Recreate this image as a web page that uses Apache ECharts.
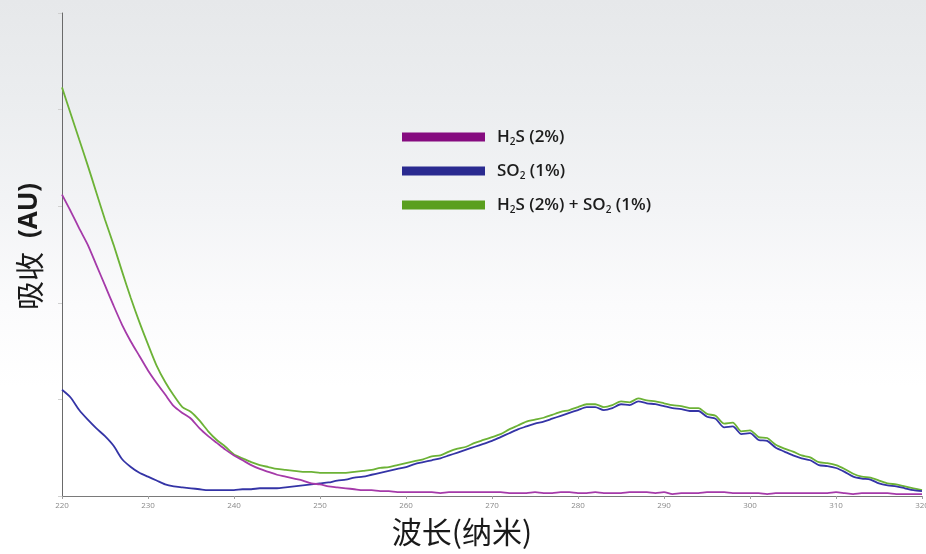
<!DOCTYPE html>
<html>
<head>
<meta charset="utf-8">
<script src="https://cdn.jsdelivr.net/npm/echarts@6/dist/echarts.min.js"></script>
<style>
  html, body { margin: 0; padding: 0; background: #fff; }
  #chart { width: 926px; height: 554px; }
</style>
</head>
<body>
<div id="chart"></div>
<script>
// Wavelength (nm)
const wavelengths = [
  220,221,222,223,224,225,226,227,228,229,
  230,231,232,233,234,235,236,237,238,239,
  240,241,242,243,244,245,246,247,248,249,
  250,251,252,253,254,255,256,257,258,259,
  260,261,262,263,264,265,266,267,268,269,
  270,271,272,273,274,275,276,277,278,279,
  280,281,282,283,284,285,286,287,288,289,
  290,291,292,293,294,295,296,297,298,299,
  300,301,302,303,304,305,306,307,308,309,
  310,311,312,313,314,315,316,317,318,319,
  320
];

// Absorbance, H2S (2%)
const h2s = [
  3.12,2.95,2.77,2.60,2.39,2.18,1.97,1.77,1.60,1.45,
  1.30,1.17,1.05,0.93,0.86,0.80,0.70,0.62,0.55,0.48,
  0.42,0.37,0.32,0.28,0.25,0.22,0.20,0.18,0.16,0.13,
  0.12,0.10,0.09,0.08,0.07,0.06,0.06,0.05,0.05,0.04,
  0.04,0.04,0.04,0.04,0.03,0.04,0.04,0.04,0.04,0.04,
  0.04,0.04,0.03,0.03,0.03,0.04,0.03,0.03,0.04,0.04,
  0.03,0.03,0.04,0.03,0.03,0.03,0.04,0.04,0.04,0.03,
  0.04,0.02,0.03,0.03,0.03,0.04,0.04,0.04,0.03,0.03,
  0.03,0.03,0.02,0.03,0.03,0.03,0.03,0.03,0.03,0.03,
  0.04,0.03,0.02,0.03,0.03,0.03,0.03,0.02,0.02,0.02,
  0.02
];

// Absorbance, SO2 (1%)
const so2 = [
  1.10,1.02,0.89,0.79,0.70,0.62,0.52,0.38,0.30,0.24,
  0.20,0.16,0.12,0.10,0.09,0.08,0.07,0.06,0.06,0.06,
  0.06,0.07,0.07,0.08,0.08,0.08,0.09,0.10,0.11,0.12,
  0.13,0.14,0.16,0.17,0.19,0.20,0.22,0.24,0.26,0.28,
  0.30,0.33,0.35,0.37,0.39,0.42,0.45,0.48,0.51,0.54,
  0.57,0.61,0.65,0.69,0.72,0.75,0.77,0.80,0.83,0.86,
  0.89,0.92,0.92,0.89,0.91,0.95,0.94,0.98,0.96,0.95,
  0.93,0.91,0.90,0.88,0.88,0.82,0.80,0.71,0.72,0.64,
  0.65,0.58,0.57,0.50,0.46,0.42,0.39,0.37,0.32,0.31,
  0.29,0.25,0.20,0.18,0.17,0.13,0.11,0.10,0.08,0.06,
  0.05
];

// Absorbance, H2S (2%) + SO2 (1%)
const mix = [
  4.23,3.96,3.69,3.42,3.14,2.86,2.60,2.32,2.05,1.80,
  1.57,1.35,1.18,1.04,0.92,0.87,0.78,0.67,0.58,0.51,
  0.43,0.39,0.35,0.32,0.30,0.28,0.27,0.26,0.25,0.25,
  0.24,0.24,0.24,0.24,0.25,0.26,0.27,0.29,0.30,0.32,
  0.34,0.36,0.38,0.41,0.42,0.46,0.49,0.51,0.55,0.58,
  0.61,0.64,0.69,0.73,0.77,0.79,0.81,0.84,0.87,0.89,
  0.92,0.95,0.95,0.92,0.94,0.98,0.97,1.01,0.99,0.98,
  0.96,0.94,0.93,0.91,0.91,0.85,0.83,0.75,0.76,0.67,
  0.68,0.61,0.60,0.53,0.49,0.46,0.42,0.40,0.35,0.34,
  0.32,0.28,0.23,0.20,0.19,0.16,0.13,0.12,0.10,0.08,
  0.06
];

const seriesNames = ['H2S (2%)', 'SO2 (1%)', 'H2S (2%) + SO2 (1%)'];
const legendLabels = {
  'H2S (2%)': '{t|H}{s|2}{t|S (2%)}',
  'SO2 (1%)': '{t|SO}{s|2}{t| (1%)}',
  'H2S (2%) + SO2 (1%)': '{t|H}{s|2}{t|S (2%) + SO}{s|2}{t| (1%)}'
};

function pairs(ys) {
  return wavelengths.map((w, i) => [w, ys[i]]);
}

const chart = echarts.init(document.getElementById('chart'), null, { renderer: 'canvas' });

chart.setOption({
  animation: false,
  backgroundColor: {
    type: 'linear', x: 0, y: 0, x2: 0, y2: 1,
    colorStops: [
      { offset: 0, color: '#e6e8ea' },
      { offset: 0.18, color: '#ebedef' },
      { offset: 0.38, color: '#f3f4f6' },
      { offset: 0.55, color: '#fbfbfc' },
      { offset: 0.7, color: '#ffffff' },
      { offset: 1, color: '#ffffff' }
    ]
  },
  grid: { left: 62, right: 4, top: 13, bottom: 58, containLabel: false, outerBoundsMode: 'none' },
  legend: {
    orient: 'vertical',
    left: 397,
    top: 120,
    icon: 'rect',
    itemWidth: 83,
    itemHeight: 9,
    itemGap: 10,
    data: seriesNames,
    formatter: name => legendLabels[name],
    textStyle: {
      padding: [0, 0, 0, 7],
      lineHeight: 24,
      rich: {
        t: { fontFamily: 'Open Sans', fontWeight: 600, fontSize: 17, color: '#1c1c1c', lineHeight: 24 },
        s: { fontFamily: 'Open Sans', fontWeight: 600, fontSize: 10, color: '#1c1c1c', lineHeight: 24, padding: [11, 0, 0, 0] }
      }
    }
  },
  xAxis: {
    type: 'value',
    min: 220,
    max: 320,
    interval: 10,
    name: '波长(纳米)',
    nameLocation: 'middle',
    nameGap: 21,
    nameTextStyle: {
      fontFamily: 'Noto Sans CJK SC',
      fontSize: 30,
      color: '#1a1a1a',
      padding: [0, 60, 0, 0]
    },
    axisLine: { lineStyle: { color: '#7a7a7a', width: 1 } },
    axisTick: { show: true, length: 3, lineStyle: { color: '#a0a0a0' } },
    axisLabel: { fontFamily: 'Open Sans', fontSize: 8, color: '#8a8a8a', margin: 6, showMaxLabel: true },
    splitLine: { show: false }
  },
  yAxis: {
    type: 'value',
    min: 0,
    max: 5,
    interval: 1,
    name: '{cn|吸收}{en|(AU)}',
    nameLocation: 'middle',
    nameGap: 18,
    nameTextStyle: {
      padding: [0, 0, 0, 16],
      rich: {
        cn: { fontFamily: 'Noto Sans CJK SC', fontSize: 29, color: '#1a1a1a' },
        en: { fontFamily: 'Open Sans', fontWeight: 700, fontSize: 26, color: '#1a1a1a', padding: [0, 0, 0, 14] }
      }
    },
    axisLine: { show: true, lineStyle: { color: '#6a6a6a', width: 1 } },
    axisTick: { show: true, length: 4, lineStyle: { color: '#d0d0d0' } },
    axisLabel: { show: false },
    splitLine: { show: false }
  },
  series: [
    {
      name: seriesNames[2],
      type: 'line',
      data: pairs(mix),
      showSymbol: false,
      smooth: 0.25,
      itemStyle: { color: '#5a9f1f' },
      lineStyle: { color: '#6cb236', width: 1.8 },
      z: 2
    },
    {
      name: seriesNames[1],
      type: 'line',
      data: pairs(so2),
      showSymbol: false,
      smooth: 0.25,
      itemStyle: { color: '#2a2a90' },
      lineStyle: { color: '#3434a6', width: 1.8 },
      z: 3
    },
    {
      name: seriesNames[0],
      type: 'line',
      data: pairs(h2s),
      showSymbol: false,
      smooth: 0.25,
      itemStyle: { color: '#850b7f' },
      lineStyle: { color: '#a53aa9', width: 1.8 },
      z: 4
    }
  ]
});
</script>
</body>
</html>
